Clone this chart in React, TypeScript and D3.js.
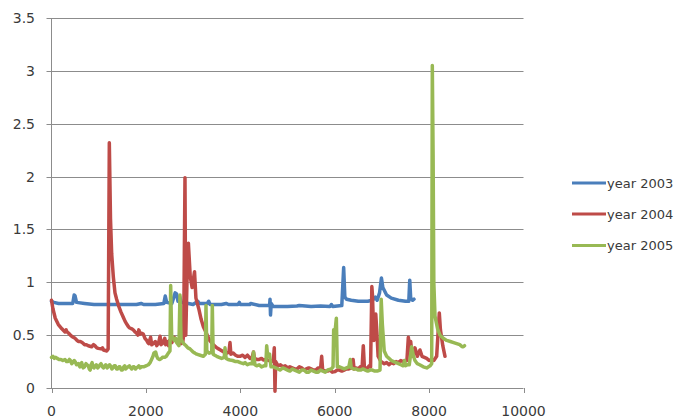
import React from "react";
import * as d3 from "d3";

type Pt = [number, number];

const xTicks = [0, 2000, 4000, 6000, 8000, 10000];
const yTicks = [0, 0.5, 1, 1.5, 2, 2.5, 3, 3.5];
const seriesNames = ["year 2003", "year 2004", "year 2005"];
const seriesColors = ["#4A7EBB", "#BE4B48", "#98B954"];

const year2003: Pt[] = [
  [0, 0.82], [50, 0.81], [150, 0.8], [300, 0.8], [450, 0.8], [480, 0.88], [500, 0.87], [530, 0.81],
  [700, 0.8], [900, 0.79], [1200, 0.79], [1500, 0.79], [1800, 0.79], [1900, 0.8], [1950, 0.79],
  [2200, 0.79], [2380, 0.8], [2410, 0.87], [2440, 0.81], [2550, 0.8], [2620, 0.9], [2650, 0.89],
  [2680, 0.82], [2720, 0.86], [2750, 0.81], [2900, 0.8], [3000, 0.79], [3100, 0.82], [3130, 0.8],
  [3300, 0.8], [3330, 0.82], [3360, 0.79], [3600, 0.79], [3700, 0.8], [3750, 0.79], [3950, 0.79],
  [3980, 0.81], [4000, 0.79], [4200, 0.79], [4220, 0.8], [4400, 0.78], [4620, 0.78], [4630, 0.84],
  [4640, 0.69], [4655, 0.8], [4700, 0.77], [5000, 0.77], [5200, 0.775], [5250, 0.78], [5500, 0.77],
  [5700, 0.775], [5900, 0.77], [5930, 0.79], [5960, 0.77], [6150, 0.78], [6190, 1.14], [6215, 0.86],
  [6250, 0.84], [6350, 0.83], [6500, 0.82], [6700, 0.82], [6800, 0.83], [6860, 0.86], [6900, 0.83],
  [6950, 0.9], [6990, 1.04], [7020, 0.95], [7100, 0.88], [7200, 0.85], [7350, 0.83], [7500, 0.82],
  [7570, 0.82], [7590, 1.02], [7610, 0.85], [7650, 0.83], [7680, 0.84],
];

const year2004: Pt[] = [
  [0, 0.83], [30, 0.75], [80, 0.66], [145, 0.6], [220, 0.56], [286, 0.53], [310, 0.55], [330, 0.53],
  [360, 0.52], [400, 0.5], [427, 0.49], [460, 0.48], [500, 0.47], [530, 0.455], [568, 0.44], [610, 0.44],
  [650, 0.43], [700, 0.41], [740, 0.41], [780, 0.4], [850, 0.39], [890, 0.41], [920, 0.4], [960, 0.38],
  [992, 0.375], [1050, 0.37], [1080, 0.38], [1100, 0.36], [1140, 0.355], [1169, 0.35], [1200, 0.37],
  [1225, 2.32], [1250, 1.6], [1275, 1.27], [1310, 1.05], [1345, 0.9], [1380, 0.84], [1420, 0.78],
  [1470, 0.72], [1521, 0.67], [1560, 0.63], [1600, 0.6], [1630, 0.58], [1650, 0.57], [1700, 0.56],
  [1733, 0.55], [1770, 0.53], [1800, 0.52], [1830, 0.5], [1850, 0.55], [1880, 0.51], [1900, 0.52],
  [1945, 0.51], [1980, 0.47], [2017, 0.45], [2040, 0.43], [2060, 0.42], [2100, 0.48], [2123, 0.41],
  [2160, 0.42], [2200, 0.44], [2230, 0.4], [2270, 0.43], [2300, 0.49], [2320, 0.41], [2350, 0.42],
  [2400, 0.47], [2420, 0.41], [2450, 0.44], [2480, 0.4], [2500, 0.45], [2550, 0.43], [2600, 0.48],
  [2650, 0.44], [2700, 0.46], [2740, 0.42], [2780, 0.43], [2800, 0.5], [2828, 1.99], [2845, 0.5],
  [2870, 1.0], [2900, 1.37], [2940, 1.05], [2980, 0.95], [3030, 1.1], [3060, 0.85], [3120, 0.75],
  [3170, 0.65], [3217, 0.58], [3260, 0.54], [3300, 0.5], [3350, 0.45], [3390, 0.43], [3430, 0.41],
  [3500, 0.38], [3540, 0.37], [3580, 0.36], [3650, 0.34], [3711, 0.33], [3760, 0.34], [3782, 0.43],
  [3800, 0.32], [3850, 0.33], [3900, 0.31], [3950, 0.3], [3994, 0.3], [4050, 0.31], [4100, 0.29],
  [4150, 0.31], [4205, 0.28], [4250, 0.29], [4280, 0.34], [4300, 0.28], [4350, 0.27], [4400, 0.27],
  [4450, 0.28], [4488, 0.265], [4550, 0.27], [4600, 0.26], [4650, 0.26], [4700, 0.25], [4720, 0.38],
  [4735, -0.03], [4750, 0.25], [4800, 0.21], [4850, 0.22], [4900, 0.2], [4950, 0.21], [5000, 0.19],
  [5050, 0.2], [5100, 0.19], [5150, 0.18], [5200, 0.18], [5250, 0.2], [5300, 0.19], [5350, 0.17],
  [5400, 0.18], [5450, 0.19], [5500, 0.18], [5550, 0.17], [5600, 0.17], [5650, 0.19], [5700, 0.18],
  [5724, 0.3], [5745, 0.17], [5800, 0.16], [5850, 0.16], [5900, 0.17], [5950, 0.15], [6006, 0.155],
  [6050, 0.17], [6100, 0.17], [6150, 0.16], [6200, 0.17], [6250, 0.18], [6300, 0.18], [6362, 0.19],
  [6390, 0.27], [6410, 0.18], [6460, 0.19], [6500, 0.18], [6540, 0.2], [6580, 0.19], [6606, 0.4],
  [6630, 0.19], [6700, 0.19], [6730, 0.21], [6760, 0.2], [6787, 0.96], [6800, 0.88], [6830, 0.45],
  [6870, 0.7], [6893, 0.53], [6920, 0.3], [6980, 0.25], [7050, 0.23], [7100, 0.24], [7150, 0.22],
  [7200, 0.24], [7250, 0.23], [7300, 0.25], [7350, 0.24], [7400, 0.26], [7450, 0.25], [7530, 0.26],
  [7560, 0.48], [7590, 0.35], [7610, 0.44], [7640, 0.3], [7700, 0.38], [7750, 0.3], [7807, 0.36],
  [7850, 0.3], [7900, 0.29], [7949, 0.28], [8000, 0.26], [8050, 0.27], [8100, 0.26], [8160, 0.3],
  [8216, 0.71], [8240, 0.55], [8290, 0.4], [8337, 0.3],
];

const year2005: Pt[] = [
  [0, 0.29], [30, 0.3], [60, 0.28], [90, 0.29], [120, 0.28], [160, 0.27], [200, 0.27], [240, 0.26],
  [286, 0.27], [320, 0.25], [350, 0.25], [380, 0.27], [400, 0.26], [430, 0.23], [450, 0.24], [480, 0.26],
  [500, 0.25], [530, 0.22], [568, 0.23], [600, 0.2], [620, 0.23], [640, 0.24], [670, 0.19], [700, 0.2],
  [730, 0.23], [750, 0.22], [780, 0.21], [800, 0.18], [820, 0.17], [840, 0.22], [860, 0.24], [880, 0.2],
  [900, 0.19], [930, 0.21], [950, 0.22], [980, 0.19], [1000, 0.2], [1030, 0.22], [1050, 0.23],
  [1080, 0.2], [1100, 0.19], [1130, 0.21], [1150, 0.22], [1180, 0.19], [1200, 0.2], [1230, 0.22],
  [1250, 0.21], [1280, 0.18], [1300, 0.19], [1330, 0.21], [1350, 0.21], [1380, 0.18], [1400, 0.18],
  [1430, 0.2], [1450, 0.2], [1480, 0.17], [1500, 0.17], [1530, 0.2], [1550, 0.21], [1570, 0.18],
  [1593, 0.19], [1620, 0.2], [1650, 0.21], [1680, 0.19], [1700, 0.18], [1730, 0.2], [1750, 0.2],
  [1780, 0.18], [1800, 0.19], [1830, 0.2], [1850, 0.21], [1880, 0.19], [1900, 0.2], [1950, 0.2],
  [2000, 0.21], [2052, 0.22], [2090, 0.24], [2120, 0.27], [2150, 0.3], [2170, 0.33], [2207, 0.34],
  [2230, 0.3], [2250, 0.28], [2280, 0.27], [2300, 0.27], [2330, 0.28], [2350, 0.29], [2400, 0.29],
  [2433, 0.3], [2475, 0.33], [2510, 0.35], [2525, 0.97], [2545, 0.5], [2600, 0.45], [2630, 0.47],
  [2650, 0.43], [2700, 0.4], [2722, 0.88], [2745, 0.46], [2800, 0.42], [2850, 0.4], [2890, 0.38],
  [2934, 0.37], [3000, 0.34], [3040, 0.33], [3076, 0.32], [3150, 0.31], [3217, 0.3], [3260, 0.32],
  [3273, 0.78], [3290, 0.35], [3340, 0.33], [3395, 0.34], [3407, 0.78], [3425, 0.32], [3460, 0.31],
  [3500, 0.3], [3550, 0.29], [3605, 0.28], [3660, 0.29], [3676, 0.38], [3700, 0.28], [3740, 0.27],
  [3782, 0.265], [3840, 0.26], [3900, 0.25], [3950, 0.25], [4000, 0.24], [4064, 0.23], [4100, 0.24],
  [4150, 0.22], [4200, 0.23], [4250, 0.23], [4280, 0.34], [4310, 0.22], [4347, 0.21], [4400, 0.22],
  [4450, 0.2], [4500, 0.21], [4540, 0.21], [4559, 0.4], [4580, 0.3], [4620, 0.32], [4650, 0.2],
  [4700, 0.2], [4750, 0.19], [4800, 0.18], [4841, 0.17], [4900, 0.19], [4950, 0.18], [5000, 0.17],
  [5050, 0.16], [5100, 0.18], [5150, 0.17], [5200, 0.16], [5250, 0.15], [5300, 0.17], [5350, 0.17],
  [5400, 0.15], [5450, 0.15], [5500, 0.17], [5550, 0.16], [5600, 0.15], [5650, 0.15], [5700, 0.17],
  [5750, 0.16], [5800, 0.15], [5850, 0.17], [5929, 0.18], [5965, 0.2], [5978, 0.55], [6000, 0.5],
  [6035, 0.66], [6055, 0.2], [6100, 0.2], [6150, 0.19], [6200, 0.18], [6250, 0.19], [6300, 0.2],
  [6330, 0.27], [6350, 0.19], [6400, 0.18], [6450, 0.18], [6500, 0.17], [6550, 0.17], [6600, 0.18],
  [6650, 0.17], [6700, 0.16], [6750, 0.17], [6800, 0.17], [6850, 0.16], [6900, 0.16], [6960, 0.17],
  [6985, 0.84], [7010, 0.6], [7050, 0.35], [7100, 0.3], [7150, 0.28], [7200, 0.26], [7250, 0.25],
  [7300, 0.24], [7350, 0.23], [7400, 0.22], [7450, 0.21], [7480, 0.26], [7500, 0.21], [7540, 0.22],
  [7580, 0.22], [7630, 0.39], [7670, 0.3], [7700, 0.26], [7750, 0.23], [7800, 0.22], [7877, 0.2],
  [7950, 0.19], [8020, 0.21], [8055, 0.23], [8068, 3.05], [8085, 2.2], [8100, 1.0], [8125, 0.68],
  [8180, 0.56], [8231, 0.5], [8300, 0.47], [8373, 0.45], [8450, 0.44], [8520, 0.43], [8585, 0.42],
  [8650, 0.41], [8700, 0.39], [8725, 0.39], [8750, 0.4],
];

const allSeries = [year2003, year2004, year2005];

export default function App() {
  const W = 678;
  const H = 418;
  const x = d3.scaleLinear().domain([0, 10000]).range([51.5, 523.5]);
  const y = d3.scaleLinear().domain([0, 3.5]).range([388, 18]);
  const line = d3
    .line<Pt>()
    .x((d) => x(d[0]))
    .y((d) => y(d[1]));
  const gridColor = "#8c8c8c";
  const textColor = "#3a3a3a";
  const font = "'DejaVu Sans', sans-serif";
  const legendY = [183, 214, 245.5];

  return (
    <svg
      width={W}
      height={H}
      style={{ position: "absolute", left: 0, top: 0, background: "#fff" }}
    >
      {yTicks.map((t) => (
        <g key={"y" + t}>
          <line
            x1={x(0) - 5}
            x2={x(10000)}
            y1={Math.round(y(t)) + 0.5}
            y2={Math.round(y(t)) + 0.5}
            stroke={gridColor}
            strokeWidth={1}
          />
          <text
            x={35}
            y={y(t)}
            dy="0.36em"
            textAnchor="end"
            fontFamily={font}
            fontSize={14}
            fill={textColor}
          >
            {String(t)}
          </text>
        </g>
      ))}
      <line x1={x(0)} x2={x(0)} y1={y(3.5)} y2={y(0)} stroke={gridColor} strokeWidth={1} />
      {xTicks.map((t) => (
        <g key={"x" + t}>
          <line
            x1={Math.round(x(t)) + 0.5}
            x2={Math.round(x(t)) + 0.5}
            y1={y(0)}
            y2={y(0) + 5}
            stroke={gridColor}
            strokeWidth={1}
          />
          <text
            x={x(t)}
            y={416}
            textAnchor="middle"
            fontFamily={font}
            fontSize={14}
            fill={textColor}
          >
            {String(t)}
          </text>
        </g>
      ))}
      {allSeries.map((s, i) => (
        <path
          key={"s" + i}
          d={line(s) || ""}
          fill="none"
          stroke={seriesColors[i]}
          strokeWidth={3.5}
          strokeLinejoin="round"
          strokeLinecap="round"
        />
      ))}
      {seriesNames.map((n, i) => (
        <g key={"l" + i}>
          <line
            x1={572}
            x2={606}
            y1={legendY[i]}
            y2={legendY[i]}
            stroke={seriesColors[i]}
            strokeWidth={3}
          />
          <text
            x={607}
            y={legendY[i]}
            dy="0.36em"
            fontFamily={font}
            fontSize={13}
            fill={textColor}
          >
            {n}
          </text>
        </g>
      ))}
    </svg>
  );
}
